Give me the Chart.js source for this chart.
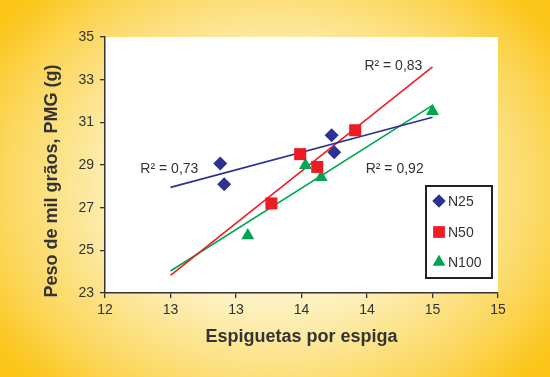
<!DOCTYPE html>
<html>
<head>
<meta charset="utf-8">
<script src="https://cdn.jsdelivr.net/npm/chart.js@4.4.1/dist/chart.umd.min.js"></script>
<style>
  html, body { margin: 0; padding: 0; }
  body {
    width: 550px; height: 377px; overflow: hidden;
    background: radial-gradient(ellipse 62% 72% at 50% 50%, #fef8e0 0%, #fdf0bc 45%, #fcd963 78%, #fbc51a 100%);
  }
  #wrap { position: relative; width: 550px; height: 377px; }
</style>
</head>
<body>
<div id="wrap"><canvas id="chart"></canvas></div>
<script>
// Espiguetas por espiga vs PMG
const seriesNames = ['N25', 'N50', 'N100'];
const xN25 = [12.88, 12.91, 13.73, 13.75];
const yN25 = [29.07, 28.10, 30.40, 29.60];
const xN50 = [13.27, 13.49, 13.62, 13.91];
const yN50 = [27.20, 29.51, 28.91, 30.63];
const xN100 = [13.09, 13.53, 13.65, 14.50];
const yN100 = [25.70, 28.99, 28.42, 31.52];
const r2Labels = ['R² = 0,73', 'R² = 0,83', 'R² = 0,92'];
const trendFrom = 12.5, trendTo = 14.5;
const xTickLabels = ['12', '13', '13', '14', '14', '15', '15'];
const yTicks = [23, 25, 27, 29, 31, 33, 35];

const colors = ['#2e3192', '#ed1c24', '#00a651'];
const shapes = ['rectRot', 'rect', 'triangle'];
const radii = [7, 8.5, 7.5];

function fit(xs, ys) {
    const n = xs.length;
    const mx = xs.reduce((a, b) => a + b, 0) / n;
    const my = ys.reduce((a, b) => a + b, 0) / n;
    let sxy = 0, sxx = 0;
    xs.forEach((x, i) => { sxy += (x - mx) * (ys[i] - my); sxx += (x - mx) * (x - mx); });
    const b = sxy / sxx;
    return x => my + b * (x - mx);
}

const xs = [xN25, xN50, xN100], ys = [yN25, yN50, yN100];
const datasets = [];
seriesNames.forEach((name, i) => {
    datasets.push({
        label: name,
        data: xs[i].map((x, j) => ({ x: x, y: ys[i][j] })),
        pointStyle: shapes[i],
        pointRadius: radii[i],
        pointHoverRadius: radii[i],
        backgroundColor: colors[i],
        borderColor: colors[i],
        borderWidth: 0,
        showLine: false,
        order: 0
    });
});
seriesNames.forEach((name, i) => {
    const f = fit(xs[i], ys[i]);
    datasets.push({
        label: name + ' trend',
        data: [{ x: trendFrom, y: f(trendFrom) }, { x: trendTo, y: f(trendTo) }],
        showLine: true,
        pointRadius: 0,
        borderColor: colors[i],
        borderWidth: 1.6,
        fill: false,
        order: 1
    });
});

// R² text anchors (data units)
const r2Pos = [{ x: 12.27, y: 28.8 }, { x: 13.98, y: 33.64 }, { x: 13.99, y: 28.8 }];

const decor = {
    id: 'decor',
    beforeDraw(chart) {
        const { ctx, chartArea: a } = chart;
        ctx.save();
        ctx.fillStyle = '#ffffff';
        ctx.fillRect(a.left, a.top, a.right - a.left, a.bottom - a.top);
        ctx.restore();
    },
    afterDraw(chart) {
        const { ctx, chartArea: a, scales } = chart;
        ctx.save();
        ctx.fillStyle = '#333333';
        ctx.font = '14px Arial, "Liberation Sans", sans-serif';
        ctx.textBaseline = 'middle';
        ctx.textAlign = 'left';
        r2Labels.forEach((t, i) => {
            ctx.fillText(t, scales.x.getPixelForValue(r2Pos[i].x), scales.y.getPixelForValue(r2Pos[i].y));
        });

        // axis titles
        ctx.font = 'bold 18px Arial, "Liberation Sans", sans-serif';
        ctx.fillStyle = '#333333';
        ctx.textAlign = 'center';
        ctx.fillText('Espiguetas por espiga', (a.left + a.right) / 2, 337);
        ctx.save();
        ctx.translate(52, 181);
        ctx.rotate(-Math.PI / 2);
        ctx.fillText('Peso de mil grãos, PMG (g)', 0, 0);
        ctx.restore();

        // legend box
        ctx.fillStyle = '#ffffff';
        ctx.fillRect(426, 186, 66, 92);
        ctx.strokeStyle = '#222222';
        ctx.lineWidth = 2;
        ctx.strokeRect(426, 186, 66, 92);
        const rows = [201, 232, 262];
        seriesNames.forEach((name, i) => {
            ctx.fillStyle = colors[i];
            Chart.helpers.drawPoint(ctx, { pointStyle: shapes[i], radius: radii[i] - 0.5, borderWidth: 0 }, 439, rows[i]);
            ctx.fill();
            ctx.fillStyle = '#333333';
            ctx.font = '14px Arial, "Liberation Sans", sans-serif';
            ctx.textAlign = 'left';
            ctx.fillText(name, 448, rows[i] + 1);
        });
        ctx.restore();
    }
};

new Chart(document.getElementById('chart'), {
    type: 'scatter',
    data: { datasets: datasets },
    options: {
        responsive: true,
        maintainAspectRatio: false,
        animation: false,
        events: [],
        layout: { padding: { top: 37, right: 52, bottom: 0, left: 0 } },
        plugins: { legend: { display: false }, tooltip: { enabled: false } },
        scales: {
            x: {
                type: 'linear',
                min: 12, max: 15,
                afterBuildTicks: s => { s.ticks = xTickLabels.map((t, i) => ({ value: 12 + i * 0.5 })); },
                afterFit: s => { s.height = 84; },
                ticks: {
                    color: '#333333',
                    font: { family: 'Arial, "Liberation Sans", sans-serif', size: 14 },
                    padding: 4,
                    maxRotation: 0,
                    autoSkip: false,
                    callback: (v, i) => xTickLabels[i]
                },
                grid: { drawOnChartArea: false, drawTicks: true, tickLength: 5, color: '#333333', lineWidth: 1.3 },
                border: { display: true, color: '#333333', width: 1.5 }
            },
            y: {
                type: 'linear',
                min: 23, max: 35,
                afterBuildTicks: s => { s.ticks = yTicks.map(v => ({ value: v })); },
                afterFit: s => { s.width = 105; },
                ticks: {
                    color: '#333333',
                    font: { family: 'Arial, "Liberation Sans", sans-serif', size: 14 },
                    padding: 6,
                    autoSkip: false,
                    callback: v => String(v)
                },
                grid: { drawOnChartArea: false, drawTicks: true, tickLength: 5, color: '#333333', lineWidth: 1.3 },
                border: { display: true, color: '#333333', width: 1.5 }
            }
        }
    },
    plugins: [decor]
});
</script>
</body>
</html>
